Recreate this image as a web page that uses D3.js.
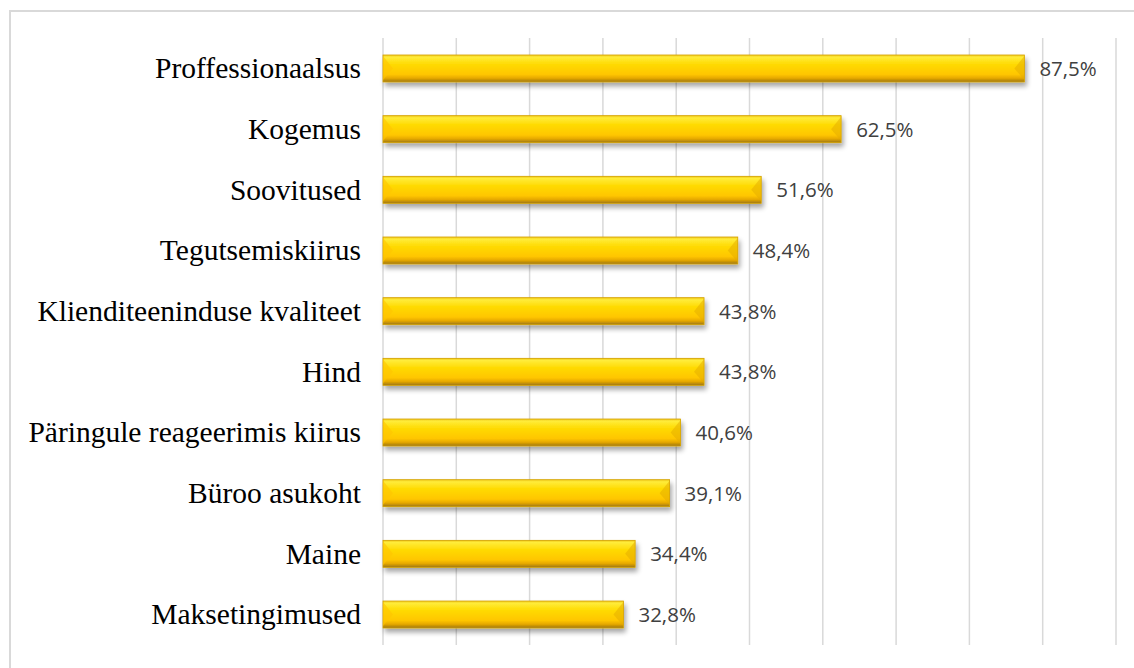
<!DOCTYPE html>
<html>
<head>
<meta charset="utf-8">
<script src="https://cdn.jsdelivr.net/npm/d3@7"></script>
<style>
body{margin:0;background:#fff;}
</style>
</head>
<body>
<svg id="chart" width="1134" height="668"></svg>
<script>
const categories = ["Proffessionaalsus","Kogemus","Soovitused","Tegutsemiskiirus","Klienditeeninduse kvaliteet","Hind","Päringule reageerimis kiirus","Büroo asukoht","Maine","Maksetingimused"];
const values = [87.5, 62.5, 51.6, 48.4, 43.8, 43.8, 40.6, 39.1, 34.4, 32.8];
const ticks = [0,10,20,30,40,50,60,70,80,90,100];

const svg = d3.select("#chart");
const margin = {top: 38, left: 383};
const width = 733, height = 607;

// frame
svg.append("rect").attr("x",10).attr("y",11).attr("width",1140).attr("height",700)
	.attr("fill","none").attr("stroke","#d9d9d9").attr("stroke-width",2);

const defs = svg.append("defs");
const grad = defs.append("linearGradient").attr("id","gold").attr("x1",0).attr("y1",0).attr("x2",0).attr("y2",1);
[["0%","#f0c818"],["8%","#ffec3a"],["35%","#ffda00"],["72%","#ffc600"],["86%","#e6a800"],["100%","#9c7610"]]
	.forEach(s=>grad.append("stop").attr("offset",s[0]).attr("stop-color",s[1]));
const shadow = defs.append("filter").attr("id","shadow").attr("x","-5%").attr("y","-30%").attr("width","110%").attr("height","180%");
shadow.append("feGaussianBlur").attr("in","SourceAlpha").attr("stdDeviation",2.5);
shadow.append("feOffset").attr("dx",2).attr("dy",4).attr("result","b");
shadow.append("feComponentTransfer").append("feFuncA").attr("type","linear").attr("slope",0.35);
const fm = shadow.append("feMerge");
fm.append("feMergeNode");
fm.append("feMergeNode").attr("in","SourceGraphic");

const g = svg.append("g").attr("transform","translate("+margin.left+","+margin.top+")");

const x = d3.scaleLinear().domain([0,100]).range([0,width]);
const y = d3.scaleBand().domain(categories).range([0,height]).paddingInner(0.555).paddingOuter(0.28);

g.append("g").selectAll("line").data(ticks).enter().append("line")
	.attr("x1",d=>x(d)).attr("x2",d=>x(d)).attr("y1",0).attr("y2",height)
	.attr("stroke","#d9d9d9").attr("stroke-width",1.5);

const bars = g.append("g").selectAll("g").data(categories).enter().append("g")
	.attr("transform",d=>"translate(0,"+y(d)+")");
const bh = y.bandwidth();

bars.append("rect")
	.attr("x",0).attr("y",0).attr("width",(d,i)=>x(values[i])).attr("height",bh)
	.attr("fill","url(#gold)").attr("stroke","#d4a200").attr("stroke-width",0.8)
	.attr("filter","url(#shadow)");
// bevel ends
const bev = 10;
bars.append("path")
	.attr("d","M0,1 L"+bev+","+bh/2+" L0,"+(bh-2)+"Z")
	.attr("fill","#ffc400").attr("opacity",0.6);
bars.append("path")
	.attr("d",(d,i)=>{const w=x(values[i]); return "M"+w+",1 L"+(w-bev)+","+bh/2+" L"+w+","+(bh-2)+"Z";})
	.attr("fill","#e4ac00").attr("opacity",0.5);

bars.append("text")
	.attr("x",(d,i)=>x(values[i])+15).attr("y",bh/2).attr("dy","0.36em")
	.attr("font-family","'Open Sans', sans-serif").attr("font-size",20.5).attr("fill","#404040")
	.text((d,i)=>values[i].toFixed(1).replace(".",",")+"%");

g.append("g").selectAll("text").data(categories).enter().append("text")
	.attr("x",-22).attr("y",d=>y(d)+bh/2).attr("dy","0.33em")
	.attr("text-anchor","end")
	.attr("font-family","'Liberation Serif', 'Times New Roman', serif").attr("font-size",29.5).attr("fill","#000")
	.text(d=>d);
</script>
</body>
</html>
